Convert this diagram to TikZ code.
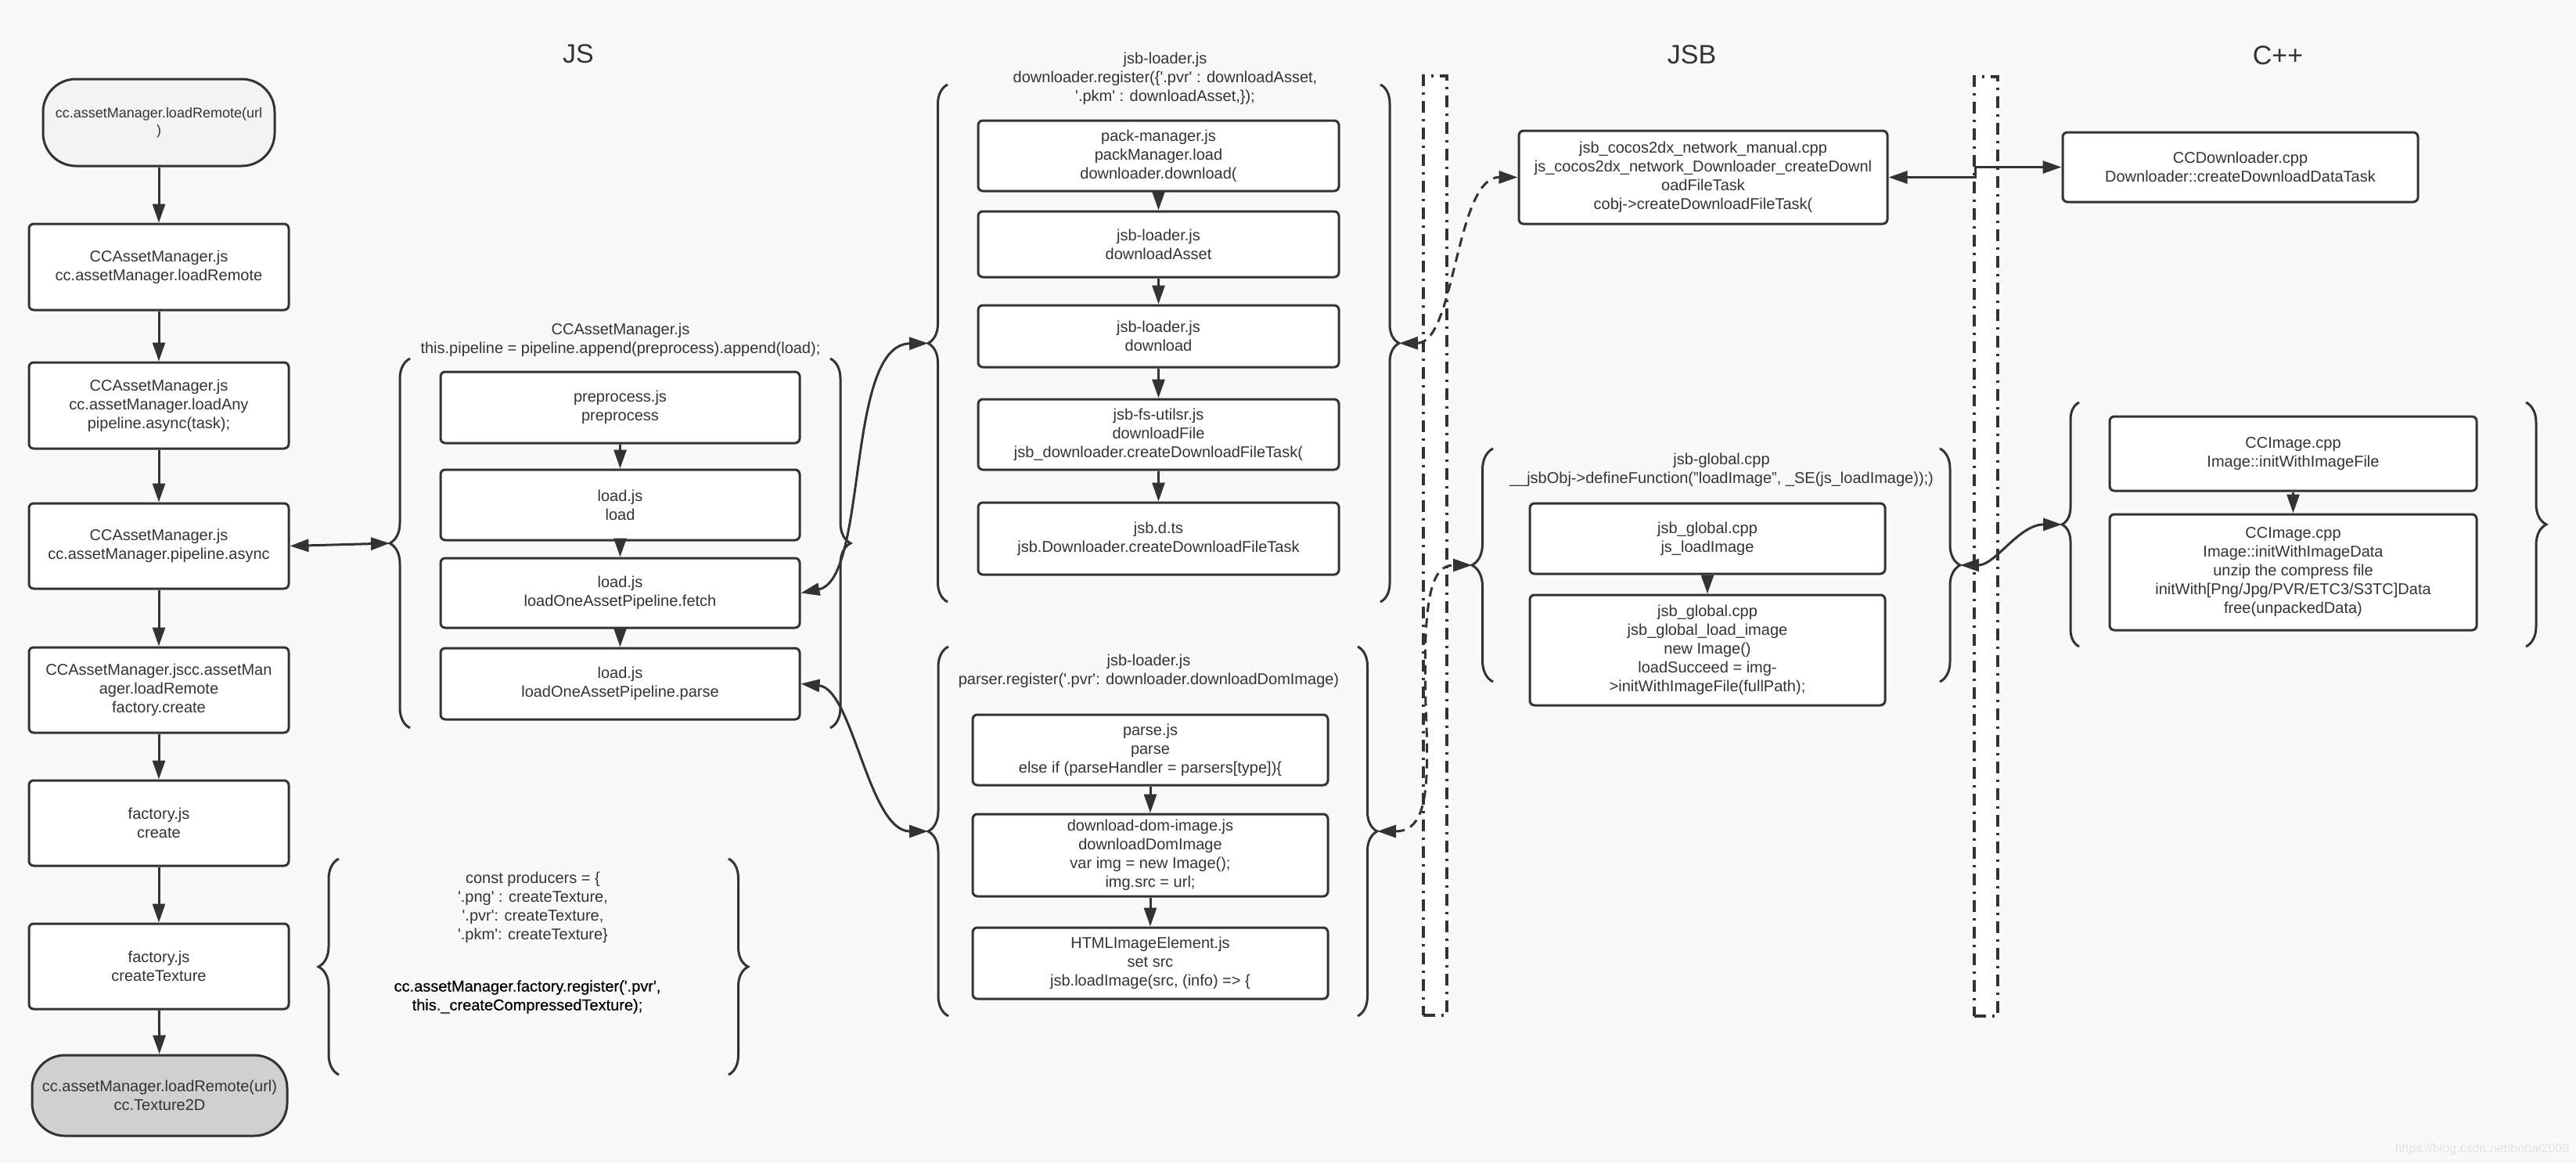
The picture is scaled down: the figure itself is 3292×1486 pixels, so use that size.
\documentclass[tikz,border=0pt]{standalone}
\usepackage{fontspec}
\setmainfont{Liberation Sans}
\usepackage{tikz}
\usetikzlibrary{arrows.meta,shapes,positioning,calc,decorations.pathreplacing}
\usepackage{xcolor}
\definecolor{dfline}{RGB}{51,51,51}
\definecolor{dfbg}{RGB}{249,249,249}
\definecolor{dfstart}{RGB}{243,243,243}
\definecolor{dfend}{RGB}{208,208,208}
\definecolor{dfmark}{RGB}{226,226,226}
\newcommand{\boxfont}{\fontsize{20}{24}\selectfont}
\newcommand{\sqt}{\textquotesingle}
\tikzstyle{arrow} = [line width=3pt,-{Triangle[length=24pt,width=16pt]},color=dfline]
\tikzstyle{dblarrow} = [line width=3pt,{Triangle[length=24pt,width=16pt]}-{Triangle[length=24pt,width=16pt]},color=dfline]
\tikzstyle{dasharrow} = [dblarrow, dash pattern=on 12pt off 8pt]
\tikzstyle{stepbox} = [rectangle, rounded corners=6pt, draw=dfline, fill=white, line width=3pt, text=dfline, align=center, font=\boxfont, inner sep=0pt]
\tikzstyle{termbox} = [stepbox, rounded corners=42pt]
\tikzstyle{grouplabel} = [align=center, font=\boxfont, text=dfline, inner sep=0pt]
\tikzstyle{groupbrace} = [decorate, line width=3pt, draw=dfline]
\tikzstyle{lanetitle} = [font=\fontsize{34}{40}\selectfont, text=dfline]
\tikzstyle{lanesep} = [rectangle, draw=dfline, fill=white, line width=4pt, dash pattern=on 15pt off 8pt on 3pt off 8pt, inner sep=0pt, minimum width=30pt, minimum height=1200pt]

\begin{document}
\begin{tikzpicture}[x=1pt, y=-1pt]
\useasboundingbox (0,0) rectangle (3292,1486);
\fill[dfbg] (0,0) rectangle (3292,1486);

% Lane titles and separators
\node[lanetitle] (tjs) at (739,69) {JS};
\node[lanetitle] (tjsb) at (2162,70) {JSB};
\node[lanetitle] (tcpp) at (2911,71) {C++};
\node[lanesep] (sep1) at (1834,697) {};
\node[lanesep] (sep2) at (2538,698) {};

% Left column: loadRemote flow
\node[termbox, fill=dfstart, minimum width=296pt, minimum height=111pt, font=\fontsize{18}{22}\selectfont] (start) at (203,156.5) {cc.assetManager.loadRemote(url\\)};
\node[stepbox, minimum width=332pt, minimum height=110pt] (amRemote) at (203,341) {CCAssetManager.js\\cc.assetManager.loadRemote};
\node[stepbox, minimum width=332pt, minimum height=110pt] (amAny) at (203,518) {CCAssetManager.js\\cc.assetManager.loadAny\\pipeline.async(task);};
\node[stepbox, minimum width=332pt, minimum height=109pt] (amAsync) at (203,697.5) {CCAssetManager.js\\cc.assetManager.pipeline.async};
\node[stepbox, minimum width=332pt, minimum height=109pt] (amCreate) at (203,881.5) {CCAssetManager.jscc.assetMan\\ager.loadRemote\\factory.create};
\node[stepbox, minimum width=332pt, minimum height=109pt] (facCreate) at (203,1051.5) {factory.js\\create};
\node[stepbox, minimum width=332pt, minimum height=109pt] (facTex) at (203,1234.5) {factory.js\\createTexture};
\node[termbox, fill=dfend, minimum width=326pt, minimum height=103pt] (result) at (204,1399.5) {cc.assetManager.loadRemote(url)\\cc.Texture2D};

% Producers note
\draw[groupbrace, decoration={brace, amplitude=26pt}] (433,1373) -- (433,1097);
\draw[groupbrace, decoration={brace, amplitude=25pt}] (931,1097) -- (931,1373);
\node[grouplabel] (prodList) at (681,1159.5) {const producers = \{\\\sqt.png\sqt{} : createTexture,\\\sqt.pvr\sqt: createTexture,\\\sqt.pkm\sqt: createTexture\}};
\node[grouplabel, text=black, font=\boxfont\addfontfeatures{FakeBold=0.4}] (prodReg) at (674,1273.5) {cc.assetManager.factory.register(\sqt.pvr\sqt,\\this.\_createCompressedTexture);};

% Pipeline group
\draw[groupbrace, decoration={brace, amplitude=26pt}] (524,930) -- (524,458);
\draw[groupbrace, decoration={brace, amplitude=26pt}] (1061,458) -- (1061,930);
\coordinate (g1w) at (498,694);
\node[grouplabel] (g1label) at (793,434) {CCAssetManager.js\\this.pipeline = pipeline.append(preprocess).append(load);};
\node[stepbox, minimum width=459pt, minimum height=91pt] (prep) at (792.5,520.5) {preprocess.js\\preprocess};
\node[stepbox, minimum width=459pt, minimum height=90pt] (load) at (792.5,645) {load.js\\load};
\node[stepbox, minimum width=459pt, minimum height=89pt] (fetch) at (792.5,757.5) {load.js\\loadOneAssetPipeline.fetch};
\node[stepbox, minimum width=459pt, minimum height=91pt] (parse) at (792.5,873.5) {load.js\\loadOneAssetPipeline.parse};

% Downloader group
\draw[groupbrace, decoration={brace, amplitude=25pt}] (1211,769) -- (1211,108);
\draw[groupbrace, decoration={brace, amplitude=24pt}] (1764,108) -- (1764,769);
\coordinate (g2w) at (1186,438.5);
\coordinate (g2e) at (1788,438.5);
\node[grouplabel] (g2label) at (1489,100) {jsb-loader.js\\downloader.register(\{\sqt.pvr\sqt{} : downloadAsset,\\\sqt.pkm\sqt{} : downloadAsset,\});};
\node[stepbox, minimum width=461pt, minimum height=90pt] (pack) at (1480.5,199) {pack-manager.js\\packManager.load\\downloader.download(};
\node[stepbox, minimum width=461pt, minimum height=84pt] (dlAsset) at (1480.5,312) {jsb-loader.js\\downloadAsset};
\node[stepbox, minimum width=461pt, minimum height=79pt] (dl) at (1480.5,429.5) {jsb-loader.js\\download};
\node[stepbox, minimum width=461pt, minimum height=90pt] (dlFile) at (1480.5,555) {jsb-fs-utilsr.js\\downloadFile\\jsb\_downloader.createDownloadFileTask(};
\node[stepbox, minimum width=461pt, minimum height=92pt] (jsbdts) at (1480.5,688) {jsb.d.ts\\jsb.Downloader.createDownloadFileTask};

% Parser group
\draw[groupbrace, decoration={brace, amplitude=26pt}] (1212,1298) -- (1212,826);
\draw[groupbrace, decoration={brace, amplitude=25pt}] (1735,826) -- (1735,1298);
\coordinate (g3w) at (1186,1062);
\coordinate (g3e) at (1760,1062);
\node[grouplabel] (g3label) at (1468,857) {jsb-loader.js\\parser.register(\sqt.pvr\sqt: downloader.downloadDomImage)};
\node[stepbox, minimum width=454pt, minimum height=90pt] (parsejs) at (1470,958) {parse.js\\parse\\else if (parseHandler = parsers[type])\{};
\node[stepbox, minimum width=454pt, minimum height=105pt] (domimg) at (1470,1092.5) {download-dom-image.js\\downloadDomImage\\var img = new Image();\\img.src = url;};
\node[stepbox, minimum width=454pt, minimum height=91pt] (htmlimg) at (1470,1230.5) {HTMLImageElement.js\\set src\\jsb.loadImage(src, (info) => \{};

% JSB side
\node[stepbox, minimum width=471pt, minimum height=119pt] (jsbnet) at (2176.5,226.5) {jsb\_cocos2dx\_network\_manual.cpp\\js\_cocos2dx\_network\_Downloader\_createDownl\\oadFileTask\\cobj->createDownloadFileTask(};
\draw[groupbrace, decoration={brace, amplitude=27pt}] (1908,871) -- (1908,573);
\draw[groupbrace, decoration={brace, amplitude=26pt}] (2479,573) -- (2479,871);
\coordinate (g4w) at (1881,722);
\coordinate (g4e) at (2505,722);
\node[grouplabel] (g4label) at (2200,600) {jsb-global.cpp\\\_\_jsbObj->defineFunction("loadImage", \_SE(js\_loadImage));)};
\node[stepbox, minimum width=454pt, minimum height=90pt] (jsload) at (2182,688) {jsb\_global.cpp\\js\_loadImage};
\node[stepbox, minimum width=454pt, minimum height=141pt] (jsglobal) at (2182,830.5) {jsb\_global.cpp\\jsb\_global\_load\_image\\new Image()\\loadSucceed = img-\\>initWithImageFile(fullPath);};

% C++ side
\node[stepbox, minimum width=454pt, minimum height=89pt] (ccdl) at (2863,213.5) {CCDownloader.cpp\\Downloader::createDownloadDataTask};
\draw[groupbrace, decoration={brace, amplitude=22pt}] (2657,826) -- (2657,514);
\draw[groupbrace, decoration={brace, amplitude=26pt}] (3228,514) -- (3228,826);
\coordinate (g5w) at (2635,670);
\node[stepbox, minimum width=469pt, minimum height=95pt] (imgFile) at (2930.5,579.5) {CCImage.cpp\\Image::initWithImageFile};
\node[stepbox, minimum width=469pt, minimum height=148pt] (imgData) at (2930.5,731) {CCImage.cpp\\Image::initWithImageData\\unzip the compress file\\initWith[Png/Jpg/PVR/ETC3/S3TC]Data\\free(unpackedData)};

\node[font=\fontsize{16}{19}\selectfont, text=dfmark] (mark) at (3172,1468) {https://blog.csdn.net/bobai2009};

% Arrows
\draw[arrow] (start) -- (amRemote);
\draw[arrow] (amRemote) -- (amAny);
\draw[arrow] (amAny) -- (amAsync);
\draw[arrow] (amAsync) -- (amCreate);
\draw[arrow] (amCreate) -- (facCreate);
\draw[arrow] (facCreate) -- (facTex);
\draw[arrow] (facTex) -- (result);
\draw[arrow] (prep) -- (load);
\draw[arrow] (load) -- (fetch);
\draw[arrow] (fetch) -- (parse);
\draw[arrow] (pack) -- (dlAsset);
\draw[arrow] (dlAsset) -- (dl);
\draw[arrow] (dl) -- (dlFile);
\draw[arrow] (dlFile) -- (jsbdts);
\draw[arrow] (parsejs) -- (domimg);
\draw[arrow] (domimg) -- (htmlimg);
\draw[arrow] (jsload) -- (jsglobal);
\draw[arrow] (imgFile) -- (imgData);
\draw[dblarrow] (amAsync.east) -- (g1w);
\draw[dblarrow] (fetch.east) .. controls (1110,740) and (1080,440) .. (g2w);
\draw[dblarrow] (parse.east) .. controls (1090,880) and (1110,1062) .. (g3w);
\draw[dasharrow] (g2e) .. controls (1860,438) and (1860,226) .. (jsbnet.west);
\draw[dasharrow] (g3e) .. controls (1826,1062) and (1826,1000) .. (1822,900) .. controls (1818,760) and (1830,722) .. (g4w);
\draw[dblarrow] (jsbnet.east) -- ++(111,0) |- (ccdl.west);
\draw[dblarrow] (g4e) .. controls (2550,722) and (2580,670) .. (g5w);
\end{tikzpicture}
\end{document}
